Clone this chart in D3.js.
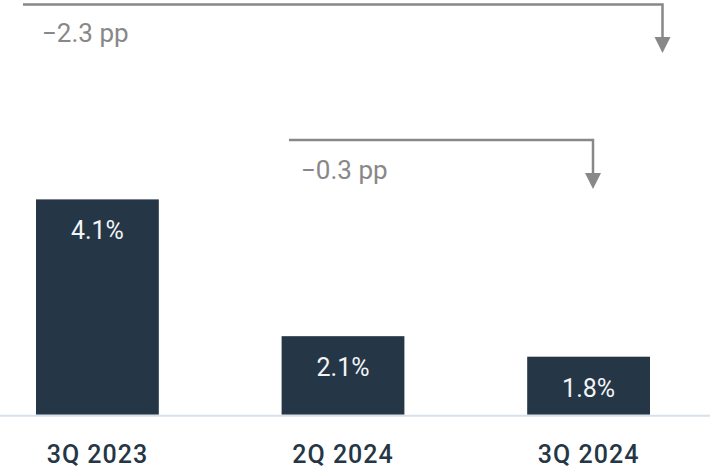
<!DOCTYPE html>
<html>
<head>
<meta charset="utf-8">
<script src="https://cdn.jsdelivr.net/npm/d3@7"></script>
<style>
  html, body { margin: 0; padding: 0; background: #ffffff; }
  svg { display: block; }
</style>
</head>
<body>
<svg id="chart" width="710" height="470"></svg>
<script>
const categories = ["3Q 2023", "2Q 2024", "3Q 2024"];
const values = [4.1, 2.1, 1.8];
const valueLabels = ["4.1%", "2.1%", "1.8%"];
const changeLabels = ["\u22122.3 pp", "\u22120.3 pp"];

const W = 710, H = 470;
const svg = d3.select("#chart");

const x = d3.scaleBand()
  .domain(categories)
  .range([0, 686])
  .paddingInner(0.5)
  .paddingOuter(0.1466);

const baseY = 414.7;
const y = d3.scaleLinear().domain([0.952, 7.015]).range([baseY, 0]);

const barColor = "#253646";
const annColor = "#888888";

// bars
svg.append("g").selectAll("rect")
  .data(values)
  .join("rect")
  .attr("x", (d, i) => x(categories[i]))
  .attr("y", d => y(d))
  .attr("width", x.bandwidth())
  .attr("height", d => baseY - y(d))
  .attr("fill", barColor);

// baseline
svg.append("line")
  .attr("x1", 0).attr("x2", W)
  .attr("y1", 415.7).attr("y2", 415.7)
  .attr("stroke", "#d6e1eb")
  .attr("stroke-width", 2);

// value labels
svg.append("g").selectAll("text")
  .data(values)
  .join("text")
  .attr("x", (d, i) => x(categories[i]) + x.bandwidth() / 2)
  .attr("y", d => y(d) + 40)
  .attr("text-anchor", "middle")
  .attr("font-family", "Roboto, sans-serif")
  .attr("font-size", 25)
  .attr("fill", "#f2f4f6")
  .text((d, i) => valueLabels[i]);

// category labels
const xAxis = d3.axisBottom(x).tickSize(0).tickPadding(0);
const axisG = svg.append("g")
  .attr("transform", `translate(0, 0)`)
  .call(xAxis);
axisG.select(".domain").remove();
axisG.selectAll("text")
  .attr("y", 463)
  .attr("dy", null)
  .attr("font-family", "Roboto, sans-serif")
  .attr("font-size", 25)
  .attr("font-weight", 500)
  .attr("letter-spacing", 1)
  .attr("fill", "#253646");

// annotation arrows
function arrow(x1, x2, yTop, tipY, label, lx, ly) {
  const g = svg.append("g");
  const headH = 16, headW = 8;
  g.append("path")
    .attr("d", `M${x1},${yTop}H${x2}V${tipY - headH}`)
    .attr("fill", "none")
    .attr("stroke", annColor)
    .attr("stroke-width", 2.5);
  g.append("path")
    .attr("d", `M${x2 - headW},${tipY - headH}L${x2 + headW},${tipY - headH}L${x2},${tipY}Z`)
    .attr("fill", annColor);
  g.append("text")
    .attr("x", lx).attr("y", ly)
    .attr("font-family", "Roboto, sans-serif")
    .attr("font-size", 26)
    .attr("fill", annColor)
    .text(label);
}

const c3 = x(categories[2]) + x.bandwidth() / 2;
arrow(23, 662.5, 4.5, 53, changeLabels[0], 42, 42);
arrow(289, 593, 140, 189, changeLabels[1], 301, 179);
</script>
</body>
</html>
